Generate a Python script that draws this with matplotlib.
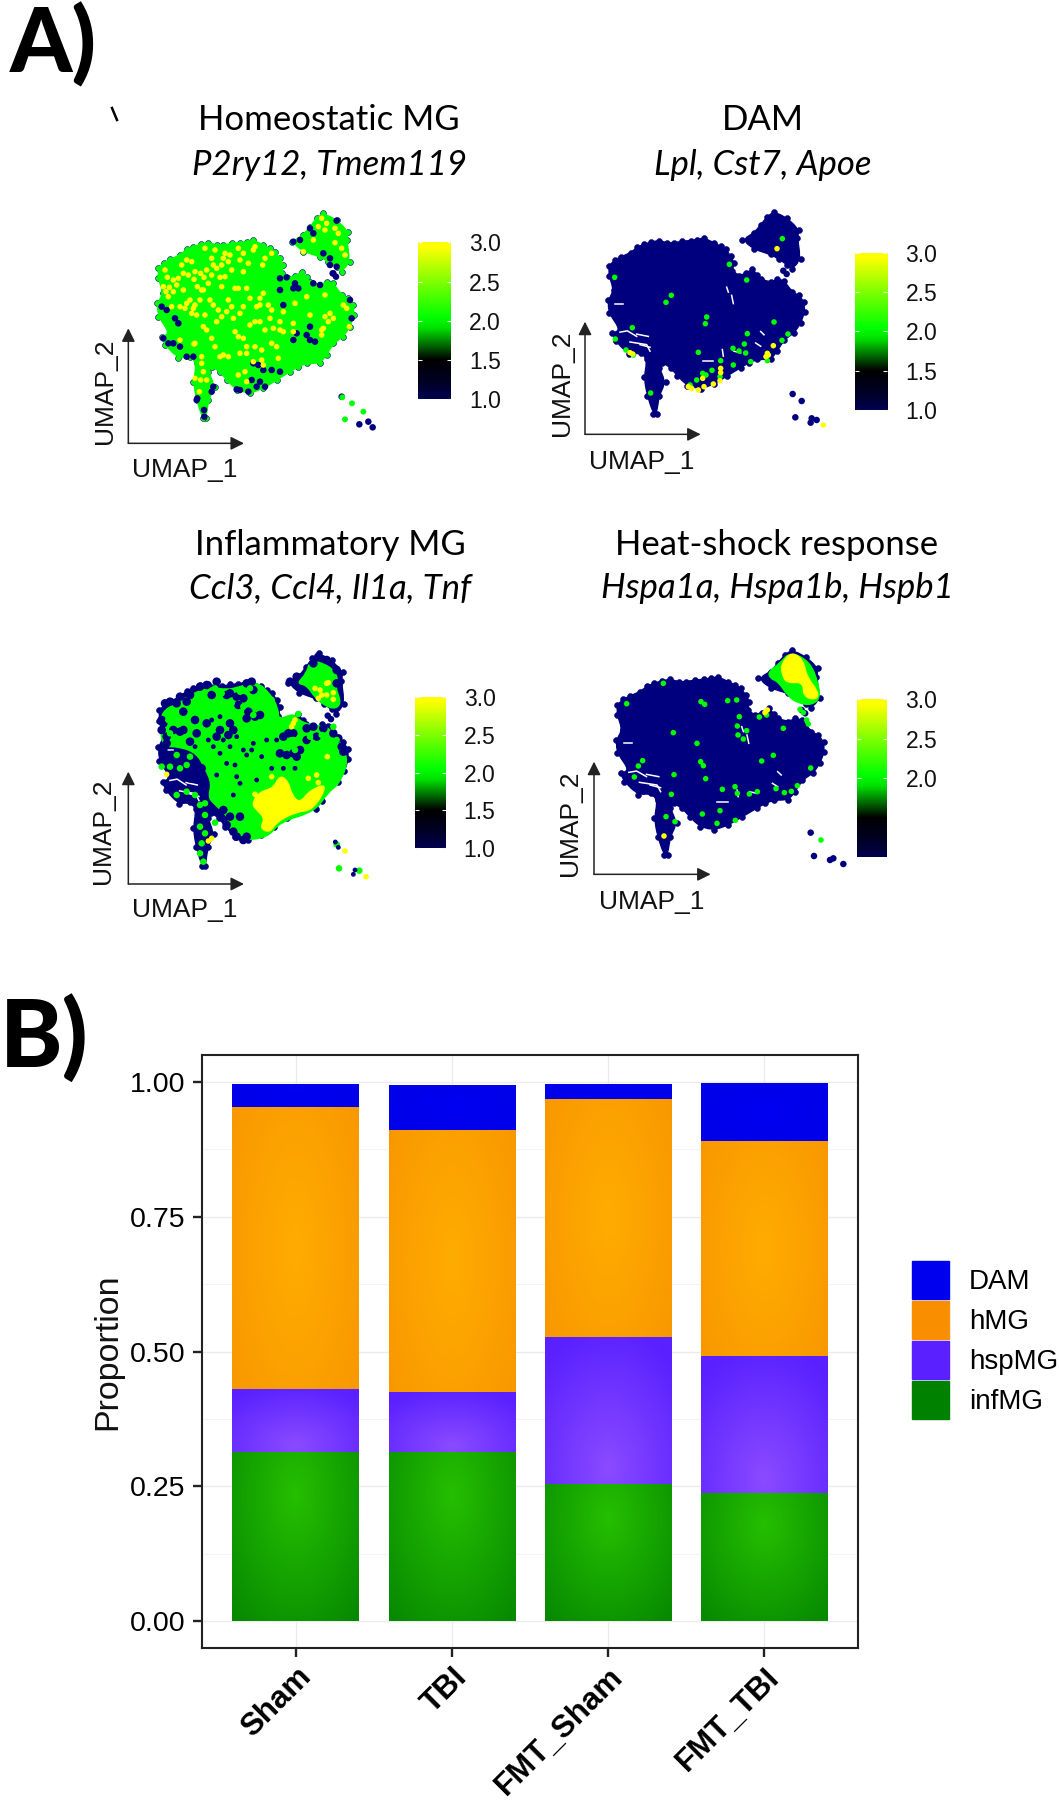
import numpy as np
import matplotlib
matplotlib.use("Agg")
import matplotlib.pyplot as plt
from matplotlib.colors import LinearSegmentedColormap
from matplotlib.lines import Line2D
from matplotlib.patches import Patch, PathPatch
from matplotlib.path import Path
from matplotlib.transforms import ScaledTranslation

plt.rcParams['font.family'] = ['Liberation Sans', 'DejaVu Sans']

############################# DATA ##############################
# stacked proportions, panel B
groups = ['Sham', 'TBI', 'FMT_Sham', 'FMT_TBI']
infMG = [0.313, 0.313, 0.255, 0.238]
hspMG = [0.118, 0.111, 0.271, 0.253]
hMG = [0.523, 0.486, 0.443, 0.399]
DAM = [0.042, 0.085, 0.028, 0.108]
y_ticks = [0.00, 0.25, 0.50, 0.75, 1.00]
legend_names = ['DAM', 'hMG', 'hspMG', 'infMG']

body_outline = [(235,235),(252,218),(270,208),(300,195),(320,178),(340,170),(362,162),(385,158),(410,165),(430,165),
    (455,160),(480,158),(500,155),(520,150),(550,165),(570,175),(585,185),(600,205),(610,225),(605,250),(625,265),
    (645,258),(665,245),(680,262),(690,275),(720,285),(740,275),(760,280),(785,315),(805,325),(820,345),(822,375),
    (810,410),(790,440),(760,460),(740,495),(720,520),(680,520),(655,530),(630,545),(590,570),(550,595),(510,610),
    (470,600),(440,570),(420,545),(395,530),(385,545),(405,590),(385,630),(378,685),(368,685),(350,630),(340,575),
    (350,520),(330,500),(295,505),(255,465),(245,440),(270,430),(235,380),(232,340),(250,310),(235,265)]
satellite_outline = [(635,155),(670,135),(690,110),(710,85),(730,70),(770,90),(805,125),(800,150),(810,215),(785,245),
    (770,232),(745,215),(720,200),(670,185)]
bridge_dots = [(758,250),(768,260)]
gap_lines = [[(268,437),(290,433),(318,450)], [(318,443),(353,450)], [(298,467),(348,475),(358,495)], [(328,475),(358,483)],
    [(253,350),(278,350)], [(588,300),(593,315)], [(603,325),(608,350)], [(518,525),(548,525)], [(575,490),(578,510)],
    [(610,495),(630,500)], [(690,435),(700,445)], [(675,470),(690,480)]]
# x scale, x shift, y scale, y shift of each panel against the first
panel_shift = [(1.0, 0, 1.0, 0), (1.0, -28, 0.985, -4), (0.966, 11, 1.04, -33), (1.058, -17, 1.0, -40)]

# panel 1, homeostatic
homeo_yellow = [(255,240),(262,262),(250,290),(258,305),(265,320),(280,270),(295,265),(305,225),(320,210),(335,215),
    (310,250),(325,255),(345,245),(362,250),(380,240),(395,255),(410,235),(425,225),(445,215),(375,175),(405,180),
    (435,190),(395,205),(450,195),(480,210),(490,190),(475,175),(505,220),(525,170),(555,205),(575,190),(490,245),
    (455,240),(310,300),(370,300),(385,280),(435,260),(360,330),(345,345),(330,330),(300,350),(315,355),(275,350),
    (335,370),(350,375),(375,375),(400,345),(415,360),(440,365),(425,380),(410,395),(380,420),(395,445),(370,410),
    (345,460),(405,470),(430,495),(420,500),(445,500),(465,425),(475,440),(490,445),(500,470),(525,470),(510,405),
    (525,395),(540,395),(475,295),(500,295),(510,325),(465,295),(425,290),(445,330),(455,350),(480,370),(490,350),
    (540,325),(550,310),(530,350),(540,345),(565,345),(575,360),(570,385),(580,415),(555,420),(575,460),(590,470),
    (600,420),(610,425),(640,425),(645,340),(610,365),(600,395),(680,320),(690,375),(640,400),(725,420),(735,380),
    (750,370),(760,385),(745,395),(725,435),(730,415),(790,345),(800,355),(735,315),(808,410),(595,505),(545,480),
    (520,515),(480,490),(500,490),(545,510),(475,555),(495,545),(500,575),(550,525),(365,500),(365,520),(370,545),
    (362,570),(380,570),(358,605),(345,565),(342,462),(300,450),(365,300),(390,330),(460,385),(725,85),(740,100),
    (715,110),(735,120),(765,115),(775,130),(700,150),(765,158),(785,175),(795,195),(670,185),(268,292),(290,285),
    (342,268),(352,290),(400,225),(372,262),(420,262),(280,305),(320,340),(340,355),(520,180),(548,225),(430,205)]
homeo_navy = [(245,350),(260,360),(285,385),(295,400),(250,445),(265,460),(280,460),(300,470),(320,500),(340,500),
    (600,265),(620,262),(600,300),(610,345),(640,295),(655,295),(645,280),(520,520),(535,525),(550,540),(575,540),
    (600,545),(515,570),(530,590),(505,605),(470,598),(480,600),(555,590),(540,575),(700,280),(720,285),(650,430),
    (640,450),(690,410),(680,435),(690,450),(705,455),(770,230),(760,250),(690,115),(700,130),(770,92),(640,155),
    (660,150),(750,205),(730,190),(750,225),(810,330),(815,385),(350,630),(372,660),(373,680),(400,590),(395,605),
    (352,625),(785,620),(838,703),(878,712),(865,695)]
homeo_green = [(787,622),(816,640),(795,688),(850,665)]

# panel 2, DAM
dam_green = [(224,262),(568,223),(620,270),(727,146),(394,316),(378,337),(500,381),(496,401),(277,413),(226,447),
    (702,396),(744,432),(726,451),(622,431),(613,462),(579,475),(597,483),(617,489),(475,487),(580,525),(632,515),
    (542,512),(516,541),(488,550),(470,570),(450,585),(332,609),(682,512),(258,480),(280,495),(498,555),(540,560)]
dam_yellow = [(711,176),(700,467),(682,490),(678,500),(685,495),(270,488),(278,492),(542,535),(542,548),(540,572),
    (520,582),(488,565),(475,600),(455,595),(445,590),(492,590),(850,705)]
dam_navy = [(758,612),(785,633),(766,682),(815,685),(830,690),(812,698)]

# panel 3, inflammatory
inf_green_region = [(245,215),(290,190),(340,160),(390,140),(440,150),(480,140),(530,125),(570,160),(595,205),(595,240),
    (640,220),(655,240),(690,255),(750,260),(795,330),(802,375),(775,435),(745,455),(705,515),(600,545),(562,595),
    (470,600),(450,570),(445,530),(400,490),(385,470),(395,430),(375,385),(350,340),(300,320),(250,320),(240,270)]
inf_satellite_green = [(650,130),(680,100),(690,60),(745,75),(775,110),(765,140),(785,190),(760,210),(710,180),(680,135)]
inf_yellow_region = [(515,490),(540,455),(580,445),(600,405),(625,425),(635,465),(660,490),(690,450),(745,430),(700,510),
    (650,515),(590,545),(570,578),(540,565),(555,535),(530,510)]
inf_navy_patches = [(270,185),(300,170),(330,165),(255,190),(290,190),(320,185),(250,250),(245,270),(260,290),(280,270),
    (245,240),(380,135),(360,140),(410,125),(450,160),(470,170),(500,130),(515,125),(520,150),(490,175),(475,195),
    (505,215),(525,230),(500,235),(540,225),(440,165),(395,165),(420,270),(450,250),(460,270),(445,285),(410,290),
    (330,305),(380,250),(345,240),(310,215),(310,270),(350,280),(300,275),(260,310),(250,330),(275,345),(300,360),
    (330,380),(345,395),(365,385),(290,395),(310,400),(330,415),(250,350),(610,290),(625,280),(600,340),(620,345),
    (640,340),(660,330),(640,280),(680,265),(700,260),(730,265),(760,280),(775,295),(785,320),(790,335),(650,350),
    (680,300),(710,290),(430,510),(420,520),(450,530),(440,555),(460,575),(470,590),(480,530),(500,590),(490,600),
    (715,50),(700,70),(740,60),(770,90),(630,125),(650,110),(770,130)]
inf_green = [(265,240),(270,280),(285,245),(330,350),(290,345),(245,380),(270,380),(290,465),(320,455),(345,465),
    (375,490),(405,145),(425,160),(405,210),(455,190),(480,155),(510,145),(530,170),(470,225),(490,200),(520,225),
    (530,200),(640,300),(655,305),(690,290),(700,310),(725,285),(725,320),(700,335),(770,300),(760,260),(645,330),
    (360,495),(375,525),(360,560),(375,580),(365,610),(360,640),(370,665),(405,548),(770,613),(777,685),(838,692),
    (655,222),(575,180),(320,375),(300,385)]
inf_navy = [(440,370),(465,375),(500,345),(545,350),(420,340),(520,310),(610,385),(400,320),(450,320),(490,330),
    (460,465),(480,430),(825,690),(820,703),(766,606),(775,622),(430,300),(470,290),(515,330),(385,300),(345,320),
    (410,405),(470,410),(530,420),(590,300),(560,300),(420,230),(395,240),(575,385),(645,385)]
inf_yellow = [(260,403),(640,250),(635,260),(645,240),(395,595),(385,603),(742,350),(575,410),(525,463),(710,405),
    (685,415),(715,428),(705,145),(720,150),(740,130),(725,165),(740,165),(760,158),(715,175),(760,178),(745,128),
    (795,633),(858,710)]

# panel 4, heat shock
hsp_satellite_green = [(685,95),(720,70),(750,35),(810,65),(835,130),(840,175),(815,195),(775,190),(745,170),(715,125),(690,115)]
hsp_satellite_yellow = [(725,70),(755,35),(790,60),(800,110),(835,155),(830,180),(790,170),(790,125),(740,130),(725,100)]
hsp_green = [(370,130),(260,191),(483,185),(494,193),(563,182),(590,180),(598,230),(658,231),(730,265),(592,258),
    (620,272),(594,285),(610,297),(400,278),(471,310),(700,346),(665,363),(308,362),(295,378),(482,365),(490,377),
    (402,404),(497,416),(283,411),(812,384),(772,437),(733,458),(754,454),(708,446),(652,455),(628,462),(585,440),
    (592,460),(547,448),(394,463),(487,522),(540,512),(378,530),(405,545),(531,550),(586,541),(843,600),(680,225),
    (780,208),(790,218),(800,240),(805,252)]
hsp_yellow = [(372,588),(682,210),(675,218)]
hsp_navy = [(812,578),(822,648),(880,655),(910,672),(870,660)]

################################ STYLE ##############################
NAVY = '#00007f'
LIME = '#00ff00'
YELLOW = '#ffff00'
expr_cmap = LinearSegmentedColormap.from_list('expr', [(0.0,'#000050'), (0.1,'#000028'), (0.25,'#000000'), (0.45,'#00e000'),
    (0.52,LIME), (0.75,'#80ff00'), (0.97,YELLOW), (1.0,YELLOW)])
W, H = 1059, 1800
CROP_W, CROP_H = 420, 310

def fx(px):
    return px/W

def fy(px):
    return 1-px/H

def moved(points, shift):
    sx, dx, sy, dy = shift
    return [(sx*x+dx, sy*y+dy) for x, y in points]

def dots(ax, points, color, size=16, edge='none', z=4):
    xs = [p[0] for p in points]
    ys = [p[1] for p in points]
    ax.scatter(xs, ys, s=size, c=color, edgecolors=edge, linewidths=0.4, zorder=z)

def blob(ax, points, color, z):
    # closed outline rounded through the midpoints of its sides
    verts = [((points[-1][0]+points[0][0])/2, (points[-1][1]+points[0][1])/2)]
    codes = [Path.MOVETO]
    for i, p in enumerate(points):
        nxt = points[(i+1) % len(points)]
        verts += [p, ((p[0]+nxt[0])/2, (p[1]+nxt[1])/2)]
        codes += [Path.CURVE3, Path.CURVE3]
    ax.add_patch(PathPatch(Path(verts, codes), fc=color, ec=color, lw=1, zorder=z))

def umapBase(ax, shift, fill, gaps=True):
    # whole cell cloud, its bumpy rim, then the thin white gaps between the cells
    for outline in (body_outline, satellite_outline):
        pts = moved(outline, shift)
        dots(ax, pts, fill, 18, edge=NAVY, z=0.9)
        blob(ax, pts, fill, 1)
    dots(ax, moved(bridge_dots, shift), NAVY, 22)
    if gaps:
        for line in gap_lines:
            pts = moved(line, shift)
            ax.plot([p[0] for p in pts], [p[1] for p in pts], color='white', lw=1.1, zorder=2)

def umapAxes(ax, origin, x_end, y_end, label_1, label_2):
    ax.annotate('', xy=(x_end, origin[1]), xytext=origin, arrowprops=dict(arrowstyle='-|>', color='#222222', lw=1.1,
        mutation_scale=20, shrinkA=0, shrinkB=0))
    ax.annotate('', xy=(origin[0], y_end), xytext=origin, arrowprops=dict(arrowstyle='-|>', color='#222222', lw=1.1,
        mutation_scale=20, shrinkA=0, shrinkB=0))
    ax.text(label_1[0], label_1[1], 'UMAP_1', fontsize=19, ha='center', va='center', color='#111111')
    ax.text(label_2[0], label_2[1], 'UMAP_2', fontsize=19, ha='center', va='center', rotation=90, color='#111111')

def colorbar(crop, box, ticks):
    # box is left, top, right, bottom in the crop at 3x, value 3.0 on top
    x0 = crop[0]+box[0]/3
    x1 = crop[0]+box[2]/3
    y0 = crop[1]+box[1]/3
    y1 = crop[1]+box[3]/3
    cax = fig.add_axes([fx(x0), fy(y1), fx(x1-x0), (y1-y0)/H])
    cax.imshow(np.linspace(3, 1, 256)[:, None], extent=[0, 1, 1, 3], aspect='auto', cmap=expr_cmap, vmin=1, vmax=3)
    for s in cax.spines.values():
        s.set_visible(False)
    cax.set_xticks([])
    cax.set_yticks(ticks)
    cax.set_yticklabels(['%.1f' % t for t in ticks])
    cax.tick_params(axis='y', left=True, right=True, labelleft=False, labelright=True, direction='in', color='#e8ffe8',
        length=3, width=0.8, labelsize=16.5, pad=13, labelcolor='#111111')

def newPanel(crop):
    ax = fig.add_axes([fx(crop[0]), fy(crop[1]+CROP_H), fx(CROP_W), CROP_H/H])
    ax.set_xlim(0, 3*CROP_W)
    ax.set_ylim(3*CROP_H, 0)
    ax.axis('off')
    return ax

def gradientBars(ax, bars, center, edge, fy_center):
    # soft radial shading of each stacked segment, clipped to the bar
    cmap = LinearSegmentedColormap.from_list('g', [center, edge])
    yy, xx = np.mgrid[0:1:100j, 0:1:100j]
    r = np.sqrt(((xx-0.5)/0.75)**2+((yy-fy_center)/1.0)**2)
    for b in bars:
        box = (b.get_x(), b.get_x()+b.get_width(), b.get_y(), b.get_y()+b.get_height())
        im = ax.imshow(r, extent=box, origin='lower', aspect='auto', cmap=cmap, vmin=0, vmax=1, zorder=3)
        im.set_clip_path(b)

################################ MAIN ##############################
fig = plt.figure(figsize=(W/100, H/100), dpi=100)

# panel letters and titles
fig.text(fx(10), fy(72), 'A)', fontsize=64, family='Lato', weight='black', ha='left', va='baseline', color='black')
fig.text(fx(0), fy(1067), 'B)', fontsize=68, family='Lato', weight='black', ha='left', va='baseline', color='black')
fig.add_artist(Line2D([fx(112), fx(117)], [fy(108), fy(120)], color='black', lw=1.8))

titles = [('Homeostatic MG', 'P2ry12, Tmem119', 329, 120, 165), ('DAM', 'Lpl, Cst7, Apoe', 763, 120, 165),
    ('Inflammatory MG', 'Ccl3, Ccl4, Il1a, Tnf', 330, 545, 588), ('Heat-shock response', 'Hspa1a, Hspa1b, Hspb1', 777, 545, 588)]
for title, genes, cx, y1, y2 in titles:
    fig.text(fx(cx), fy(y1), title, fontsize=25, family='Lato', ha='center', va='center', color='black')
    fig.text(fx(cx), fy(y2), genes, fontsize=25, family='Lato', style='italic', ha='center', va='center', color='black')

# homeostatic
crop = (80, 190)
ax = newPanel(crop)
umapBase(ax, panel_shift[0], LIME, gaps=False)
dots(ax, homeo_navy, NAVY, 22)
dots(ax, homeo_green, LIME, 18)
dots(ax, homeo_yellow, YELLOW)
umapAxes(ax, (145, 760), 492, 415, (313, 840), (75, 605))
colorbar(crop, (1015, 157, 1113, 628), [1.0, 1.5, 2.0, 2.5, 3.0])

# DAM
crop = (540, 190)
ax = newPanel(crop)
umapBase(ax, panel_shift[1], NAVY)
dots(ax, dam_navy, NAVY, 22)
dots(ax, dam_green, LIME)
dots(ax, dam_yellow, YELLOW)
umapAxes(ax, (135, 733), 482, 395, (305, 815), (65, 580))
colorbar(crop, (945, 188, 1042, 660), [1.0, 1.5, 2.0, 2.5, 3.0])

# inflammatory
crop = (80, 640)
ax = newPanel(crop)
umapBase(ax, panel_shift[2], NAVY)
blob(ax, inf_green_region, LIME, 3)
blob(ax, inf_satellite_green, LIME, 3)
blob(ax, inf_yellow_region, YELLOW, 3.5)
dots(ax, inf_navy_patches, NAVY, 38)
dots(ax, inf_green, LIME, 22)
dots(ax, inf_navy, NAVY, 12)
dots(ax, inf_yellow, YELLOW)
umapAxes(ax, (145, 732), 492, 395, (313, 810), (70, 575))
colorbar(crop, (1005, 170, 1097, 625), [1.0, 1.5, 2.0, 2.5, 3.0])

# heat shock
crop = (540, 640)
ax = newPanel(crop)
umapBase(ax, panel_shift[3], NAVY)
blob(ax, hsp_satellite_green, LIME, 3)
blob(ax, hsp_satellite_yellow, YELLOW, 3.5)
dots(ax, hsp_navy, NAVY, 22)
dots(ax, hsp_green, LIME)
dots(ax, hsp_yellow, YELLOW)
umapAxes(ax, (162, 703), 512, 365, (335, 785), (90, 550))
colorbar(crop, (952, 178, 1042, 652), [2.0, 2.5, 3.0])

# stacked bars
bx = fig.add_axes([fx(202), fy(1648), fx(656), 593/H])
pos = np.arange(len(groups))
bottom = np.zeros(len(groups))
series = [(infMG, '#12a800', '#25bf00', '#068800', 0.75), (hspMG, '#6f35ff', '#8a4bff', '#5a20ff', 0.1),
    (hMG, '#ffa500', '#ffac00', '#f79400', 0.5), (DAM, '#0000ee', '#0000f2', '#0000e6', 0.5)]
for values, col, c_mid, c_edge, f_mid in series:
    bars = bx.bar(pos, values, width=0.81, bottom=bottom, color=col, linewidth=0, zorder=3)
    gradientBars(bx, bars, c_mid, c_edge, f_mid)
    bottom = bottom+np.array(values)

bx.set_xlim(-0.6, 3.6)
bx.set_ylim(-0.05, 1.05)
bx.set_xticks(pos)
bx.set_xticklabels(groups, rotation=45, ha='right', rotation_mode='anchor', fontsize=22.5, weight='bold')
nudge = ScaledTranslation(-6/100, -1/100, fig.dpi_scale_trans)
for label in bx.get_xticklabels():
    label.set_transform(label.get_transform()+nudge)
bx.set_yticks(y_ticks)
bx.set_yticklabels(['%.2f' % t for t in y_ticks], fontsize=20.5)
bx.set_yticks([0.125, 0.375, 0.625, 0.875], minor=True)
bx.grid(True, which='major', color='#ebebeb', lw=1.0, zorder=0)
bx.grid(True, which='minor', axis='y', color='#f2f2f2', lw=0.6, zorder=0)
bx.tick_params(axis='both', which='major', length=6.5, width=1.7, color='#222222')
bx.tick_params(axis='y', which='major', pad=5.5)
bx.tick_params(axis='y', which='minor', length=0)
bx.set_ylabel('Proportion', fontsize=24.5, color='#111111')
bx.yaxis.set_label_coords(-0.12, 0.5)
for s in bx.spines.values():
    s.set_linewidth(1.5)
    s.set_color('#222222')

handles = [Patch(color='#0000ee', label=legend_names[0]), Patch(color='#f98f00', label=legend_names[1]),
    Patch(color='#5a20ff', label=legend_names[2]), Patch(color='#008200', label=legend_names[3])]
bx.legend(handles=handles, loc='center left', bbox_to_anchor=(fx(912), fy(1340)), bbox_transform=fig.transFigure,
    frameon=False, fontsize=20, handlelength=1.33, handleheight=1.73, labelspacing=0.07, handletextpad=0.72, borderpad=0, borderaxespad=0)

fig.savefig('out.png', dpi=100)
